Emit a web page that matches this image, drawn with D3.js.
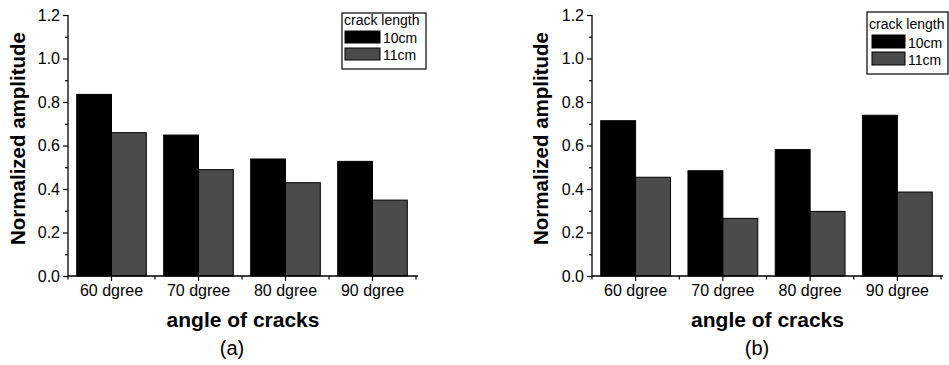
<!DOCTYPE html>
<html>
<head>
<meta charset="utf-8">
<script src="https://cdn.jsdelivr.net/npm/d3@7"></script>
<style>
  html, body { margin: 0; padding: 0; background: #fff; }
  svg { display: block; font-family: "Liberation Sans", Arial, sans-serif; }
</style>
</head>
<body>
<svg id="chart" width="949" height="365"></svg>
<script>
// ---- data ----
const categories = ["60 dgree", "70 dgree", "80 dgree", "90 dgree"];
const seriesNames = ["10cm", "11cm"];
const panelA_10cm = [0.835, 0.648, 0.538, 0.527];
const panelA_11cm = [0.659, 0.489, 0.429, 0.349];
const panelB_10cm = [0.714, 0.484, 0.581, 0.739];
const panelB_11cm = [0.454, 0.265, 0.297, 0.386];
const yTicks = [0, 0.2, 0.4, 0.6, 0.8, 1.0, 1.2];
const yMinorTicks = [0.1, 0.3, 0.5, 0.7, 0.9, 1.1];
const panelLabels = ["(a)", "(b)"];
const yTitle = "Normalized amplitude";
const xTitle = "angle of cracks";
const legendTitle = "crack length";
const seriesColors = ["#000000", "#4b4b4b"];

const svg = d3.select("#chart");

const panels = [
  { values: [panelA_10cm, panelA_11cm], label: panelLabels[0],
    x0: 68, x1: 416, xEnd: 418, yTitleX: 25, labelX: 232,
    legend: { x: 342, y: 13, w: 84, h: 56, titleY: 25, swX: 345, swW: 35, sw1: 31, sw2: 48, swH: 12, fs: 14 } },
  { values: [panelB_10cm, panelB_11cm], label: panelLabels[1],
    x0: 592, x1: 941, xEnd: 943, yTitleX: 548, labelX: 757,
    legend: { x: 867, y: 12, w: 81, h: 62, titleY: 29, swX: 872, swW: 33, sw1: 35, sw2: 52, swH: 13, fs: 14 } }
];

const yTop = 15, yBottom = 276;

panels.forEach(p => {
  const g = svg.append("g");
  const x = d3.scaleBand().domain(categories).range([p.x0, p.x1])
    .paddingInner(0.2).paddingOuter(0.1);
  const xs = d3.scaleBand().domain(seriesNames).range([0, x.bandwidth()]).padding(0);
  const y = d3.scaleLinear().domain([0, 1.2]).range([yBottom, yTop]);

  // bars
  seriesNames.forEach((s, si) => {
    g.selectAll(null).data(categories).enter().append("rect")
      .attr("x", c => x(c) + xs(s))
      .attr("y", (c, i) => y(p.values[si][i]))
      .attr("width", xs.bandwidth())
      .attr("height", (c, i) => y(0) - y(p.values[si][i]))
      .attr("fill", seriesColors[si])
      .attr("stroke", "#000")
      .attr("stroke-width", 1);
  });

  // y axis
  const yAxis = g.append("g").attr("transform", `translate(${p.x0},0)`)
    .call(d3.axisLeft(y).tickValues(yTicks).tickFormat(d3.format(".1f"))
      .tickSize(5).tickPadding(3).tickSizeOuter(0));
  yAxis.select(".domain").remove();
  yAxis.selectAll("text").attr("font-size", 16).attr("fill", "#000")
    .attr("font-family", "'Liberation Sans', Arial, sans-serif");
  yAxis.selectAll("line").attr("stroke", "#000").attr("stroke-width", 1.2);
  const yMinor = g.append("g").attr("transform", `translate(${p.x0},0)`)
    .call(d3.axisLeft(y).tickValues(yMinorTicks).tickFormat("").tickSize(3).tickSizeOuter(0));
  yMinor.select(".domain").remove();
  yMinor.selectAll("line").attr("stroke", "#000").attr("stroke-width", 1.2);

  // x axis
  const xAxis = g.append("g").attr("transform", `translate(0,${yBottom})`)
    .call(d3.axisBottom(x).tickSize(5).tickPadding(4).tickSizeOuter(0));
  xAxis.select(".domain").remove();
  xAxis.selectAll("text").attr("font-size", 16).attr("fill", "#000")
    .attr("font-family", "'Liberation Sans', Arial, sans-serif");
  xAxis.selectAll("line").attr("stroke", "#000").attr("stroke-width", 1.2);
  // minor ticks at category boundaries
  const bounds = d3.range(categories.length + 1).map(i => x.range()[0] + i * x.step());
  g.selectAll(null).data(bounds).enter().append("line")
    .attr("x1", d => d).attr("x2", d => d)
    .attr("y1", yBottom).attr("y2", yBottom + 3.5)
    .attr("stroke", "#000").attr("stroke-width", 1.2);

  // axis lines
  g.append("line").attr("x1", p.x0).attr("x2", p.x0).attr("y1", yTop).attr("y2", yBottom)
    .attr("stroke", "#000").attr("stroke-width", 1.3);
  g.append("line").attr("x1", p.x0).attr("x2", p.xEnd).attr("y1", yBottom).attr("y2", yBottom)
    .attr("stroke", "#000").attr("stroke-width", 1.3);

  // titles
  g.append("text")
    .attr("transform", `translate(${p.yTitleX},${(yTop + 17 + 245) / 2}) rotate(-90)`)
    .attr("text-anchor", "middle").attr("font-weight", "bold").attr("font-size", 20.5)
    .text(yTitle);
  g.append("text")
    .attr("x", (p.x0 + p.xEnd) / 2).attr("y", 327)
    .attr("text-anchor", "middle").attr("font-weight", "bold").attr("font-size", 21)
    .text(xTitle);
  g.append("text")
    .attr("x", p.labelX).attr("y", 355)
    .attr("text-anchor", "middle").attr("font-size", 20)
    .text(p.label);

  // legend
  const L = p.legend;
  const lg = g.append("g");
  lg.append("rect").attr("x", L.x).attr("y", L.y).attr("width", L.w).attr("height", L.h)
    .attr("fill", "#fff").attr("stroke", "#000").attr("stroke-width", 1.2);
  lg.append("text").attr("x", L.x + 2).attr("y", L.titleY).attr("font-size", L.fs).text(legendTitle);
  [L.sw1, L.sw2].forEach((sy, si) => {
    lg.append("rect").attr("x", L.swX).attr("y", sy).attr("width", L.swW).attr("height", L.swH)
      .attr("fill", seriesColors[si]).attr("stroke", "#000").attr("stroke-width", 1);
    lg.append("text").attr("x", L.swX + L.swW + 3).attr("y", sy + L.swH - 0.5)
      .attr("font-size", L.fs).text(seriesNames[si]);
  });
});
</script>
</body>
</html>
